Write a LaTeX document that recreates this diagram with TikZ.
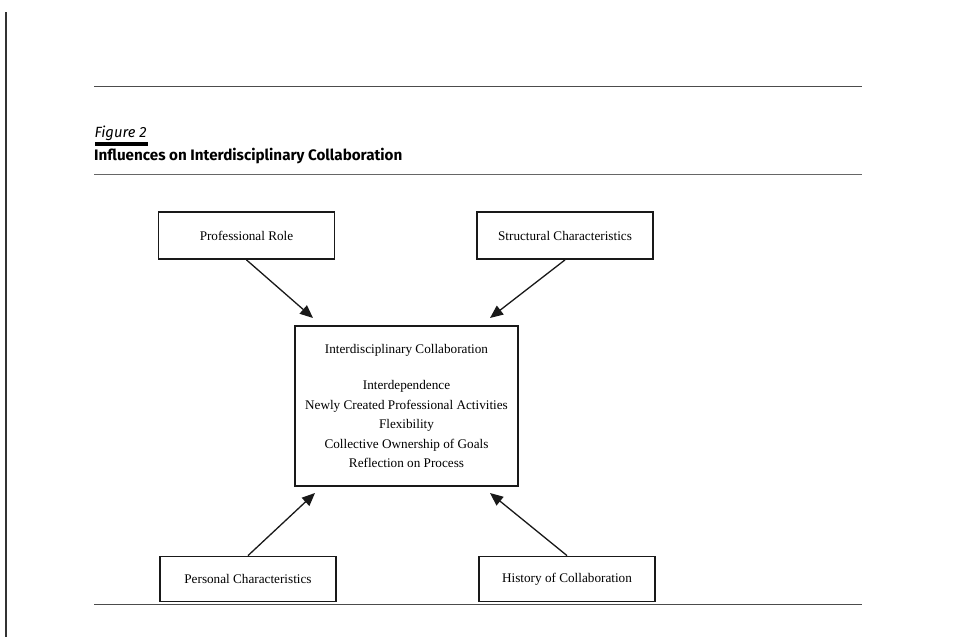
\documentclass[tikz,border=0pt]{standalone}
\usepackage{fontspec}
\setmainfont{Liberation Serif}
\newfontfamily\titlefont{Fira Sans}
\usetikzlibrary{arrows.meta}
\tikzset{
  factor/.style={draw=black!90, line width=1.8pt, minimum width=176pt, minimum height=46pt, inner sep=0pt, font=\fontsize{13.2}{15}\selectfont},
  core/.style={draw=black!90, line width=1.8pt, minimum width=223pt, minimum height=160pt, inner sep=0pt, align=center, font=\fontsize{13.2}{19.5}\selectfont},
  infl/.style={line width=1.3pt, black!90, -{Triangle[length=13pt,width=11pt]}},
  rule/.style={black!70, line width=0.8pt}
}
\begin{document}
\begin{tikzpicture}[x=1pt,y=-1pt]
\useasboundingbox (0,0) rectangle (956,637);
\fill[white] (0,0) rectangle (956,637);
% page margin line and rules
\coordinate (m1) at (6,12);
\coordinate (m2) at (6,637);
\draw[black!80, line width=1.2pt] (m1) -- (m2);
\coordinate (r1a) at (94,86);
\coordinate (r1b) at (862,86);
\draw[rule] (r1a) -- (r1b);
\coordinate (r2a) at (94,174);
\coordinate (r2b) at (862,174);
\draw[black!60, line width=0.6pt] (r2a) -- (r2b);
\coordinate (r3a) at (94,604);
\coordinate (r3b) at (862,604);
\draw[rule] (r3a) -- (r3b);
% caption
\node[anchor=base west, inner sep=0pt, font=\titlefont\itshape\fontsize{14.8}{16}\selectfont] (fig) at (94.5,137) {Figure 2};
\fill[black] (94.5,141.5) rectangle (148,145.5);
\node[anchor=base west, inner sep=0pt, font=\titlefont\bfseries\fontsize{15.2}{17}\selectfont] (title) at (94,160.5) {Influences on Interdisciplinary Collaboration};
% boxes
\node[factor, minimum height=47pt] (prof) at (246.5,235.5) {Professional Role};
\node[factor, minimum height=47pt] (struct) at (565,235.5) {Structural Characteristics};
\node[core] (ic) at (406.5,406) {Interdisciplinary Collaboration\\[17pt]
Interdependence\\
Newly Created Professional Activities\\
Flexibility\\
Collective Ownership of Goals\\
Reflection on Process};
\node[factor, minimum height=45pt] (pers) at (248,579) {Personal Characteristics};
\node[factor, minimum height=45pt] (hist) at (567,579) {History of Collaboration};
% arrow tips
\coordinate (t1) at (313,318);
\coordinate (t2) at (490,318);
\coordinate (t3) at (315,493);
\coordinate (t4) at (490,493);
\draw[infl] (prof.south) -- (t1);
\draw[infl] (struct.south) -- (t2);
\draw[infl] (pers.north) -- (t3);
\draw[infl] (hist.north) -- (t4);
\end{tikzpicture}
\end{document}
